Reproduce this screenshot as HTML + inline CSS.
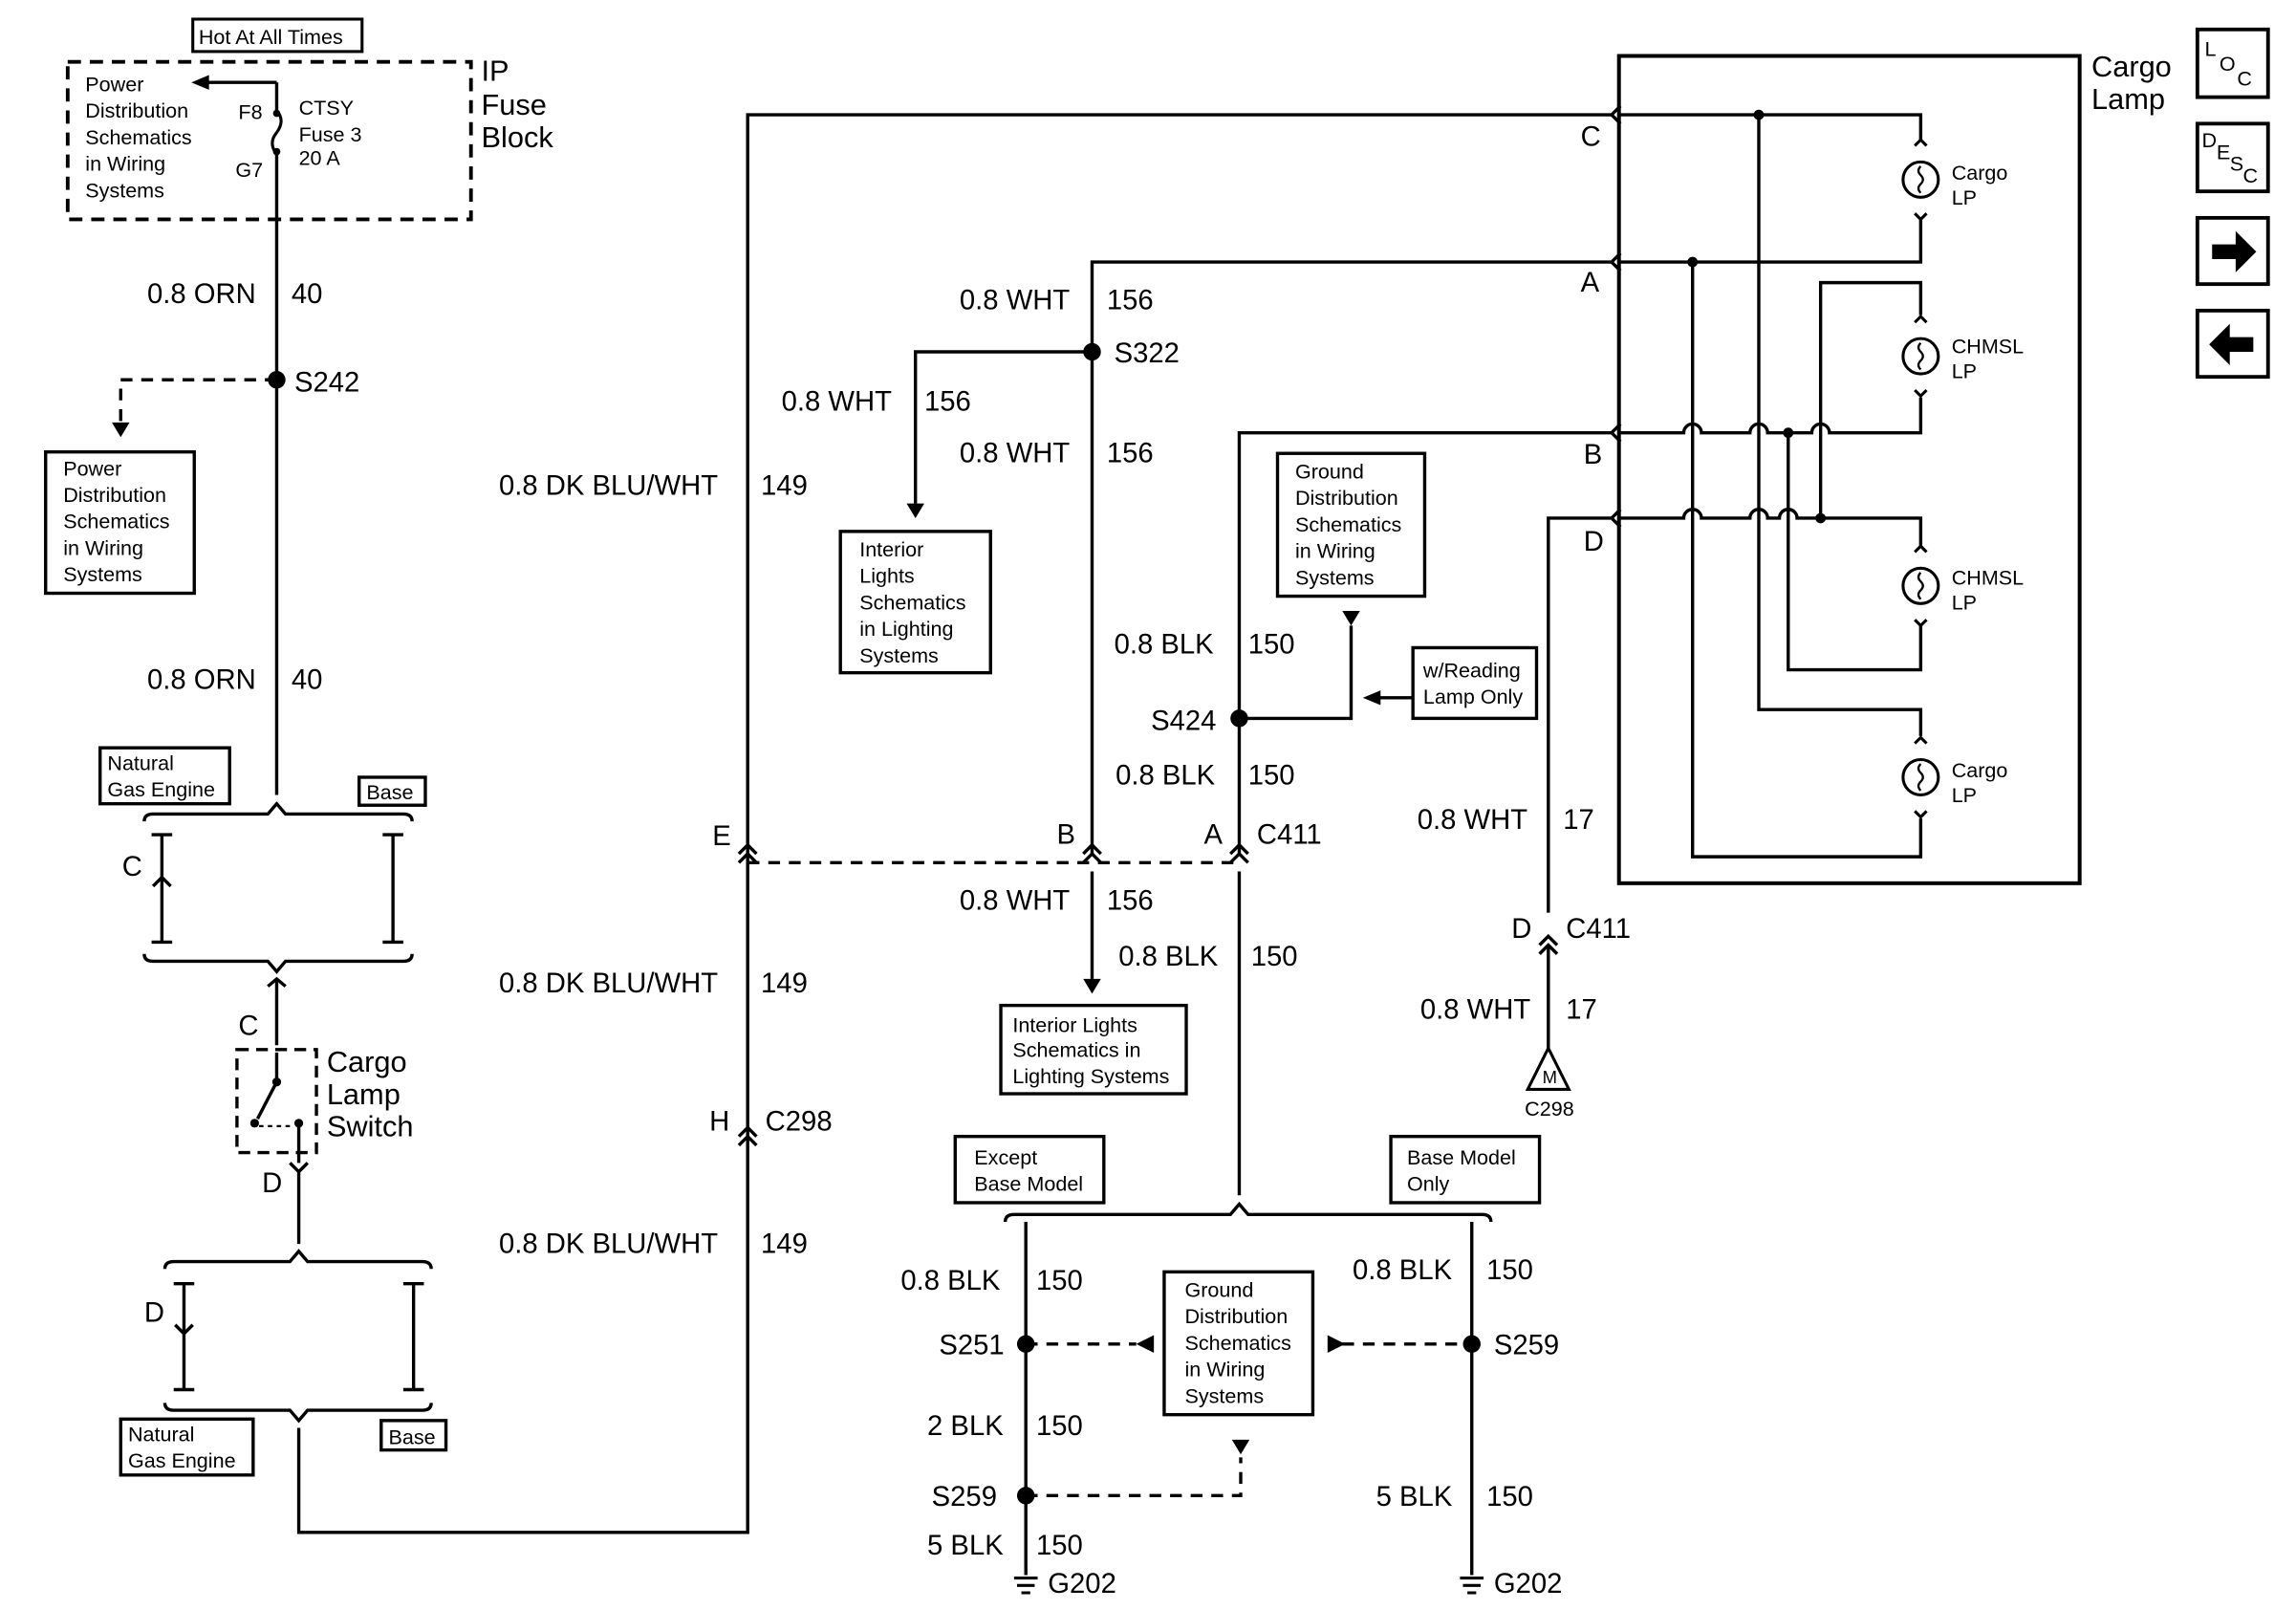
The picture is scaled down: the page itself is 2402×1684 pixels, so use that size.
<!DOCTYPE html>
<html><head><meta charset="utf-8"><style>
html,body{margin:0;padding:0;background:#fff}
svg{display:block}
text{font-family:"Liberation Sans",Arial,sans-serif;fill:#000}
.w{font-size:19px}
.s{font-size:14px}
.m{font-size:20px}
</style></head><body>
<svg width="2402" height="1684" viewBox="0 0 1560 1093.7" preserveAspectRatio="none" xmlns="http://www.w3.org/2000/svg">
<defs>
<g id="lamp"><circle cx="0" cy="0" r="12" fill="#fff" stroke="#000" stroke-width="2"/><path d="M0,-9 q-3,3 0,6 q3,3 0,6 q-3,3 0,6" fill="none" stroke="#000" stroke-width="1.5"/><path d="M-4,-23 l4,-4 l4,4 M-4,23 l4,4 l4,-4" fill="none" stroke="#000" stroke-width="2"/></g>
</defs>
<g fill="none" stroke="#000" stroke-width="2.2">
<rect x="131" y="13" width="115" height="22" stroke-width="2"/>
<rect x="46" y="42" width="274" height="107" stroke-dasharray="9,6" stroke-width="2.5"/>
<path d="M188,56 H140"/>
<path d="M188,56 V75 M188,105 V540"/>
<path d="M188,75 q6,7 0,15 q-6,7 0,15" stroke-width="2"/>
<path d="M188,258 H82 V288" stroke-dasharray="8,6"/>
<rect x="31" y="307" width="101" height="96"/>
<rect x="68" y="508" width="88" height="38"/>
<rect x="244" y="528" width="45" height="19"/>
<path d="M98,558 q0,-5 6,-5 H182 l6,-7 l6,7 H274 q6,0 6,5"/>
<path d="M103,567 h7 v73 h-7 M117,567 h-7 M117,640 h-7"/>
<path d="M104,602 l6,-6 l6,6"/>
<path d="M260,567 h7 v73 h-7 M274,567 h-7 M274,640 h-7"/>
<path d="M98,648 q0,5 6,5 H182 l6,7 l6,-7 H274 q6,0 6,-5"/>
<path d="M188,665 V710"/>
<path d="M182,670 l6,-5 l6,5"/>
<rect x="161" y="713" width="54" height="70" stroke-dasharray="8,5"/>
<path d="M188,715 V735 L175,760 M203,765 V790"/>
<path d="M176,765 H200" stroke-dasharray="3,3" stroke-width="1.5"/>
<path d="M197,790 l6,6 l6,-6"/>
<path d="M203,796 V845"/>
<path d="M112,862 q0,-5 6,-5 H197 l6,-7 l6,7 H287 q6,0 6,5"/>
<path d="M118,872 h7 v72 h-7 M132,872 h-7 M132,944 h-7"/>
<path d="M119,900 l6,6 l6,-6"/>
<path d="M274,872 h7 v72 h-7 M288,872 h-7 M288,944 h-7"/>
<path d="M112,953 q0,5 6,5 H197 l6,7 l6,-7 H287 q6,0 6,-5"/>
<rect x="82" y="964" width="90" height="38"/>
<rect x="259" y="965" width="44" height="20"/>
<path d="M203,970 V1041 H508 V78 H1095"/>
<path d="M502,586 l6,-6 l6,6 M502,580 l6,-6 l6,6"/>
<path d="M502,778 l6,-6 l6,6 M502,772 l6,-6 l6,6"/>
<path d="M742,580 V178 H1095"/>
<path d="M742,239 H622 V342"/>
<rect x="571" y="361" width="102" height="96"/>
<path d="M742,592 V665"/>
<path d="M736,586 l6,-6 l6,6 M736,580 l6,-6 l6,6"/>
<rect x="680" y="683" width="126" height="60"/>
<path d="M842,580 V294 H1095"/>
<path d="M842,592 V812"/>
<path d="M836,586 l6,-6 l6,6 M836,580 l6,-6 l6,6"/>
<path d="M842,488 H918 V425"/>
<rect x="868" y="308" width="100" height="97"/>
<rect x="960" y="440" width="84" height="48"/>
<path d="M960,474 H936"/>
<path d="M508,586 H842" stroke-dasharray="8,6"/>
<path d="M683,830 q0,-5 6,-5 H836 l6,-7 l6,7 H1007 q6,0 6,5"/>
<rect x="649" y="772" width="101" height="45"/>
<rect x="945" y="772" width="101" height="45"/>
<path d="M697,830 V1070 M1000,830 V1070"/>
<path d="M697,913 H772 M912,913 H1000" stroke-dasharray="8,6"/>
<rect x="791" y="864" width="101" height="97"/>
<path d="M697,1016 H843 V990" stroke-dasharray="8,6"/>
<path d="M1095,352 H1052 V620 M1052,642 V712"/>
<path d="M1046,642 l6,-6 l6,6 M1046,648 l6,-6 l6,6"/>
<rect x="1100" y="38" width="313" height="562" stroke-width="2.6"/>
<path d="M1101,72 l-6,6 l6,6 M1101,172 l-6,6 l6,6 M1101,288 l-6,6 l6,6 M1101,346 l-6,6 l6,6"/>
<path d="M1101,78 H1305 V96 M1305,148 V178 H1101"/>
<path d="M1101,294 H1144 a6,6 0 0 1 12,0 H1189 a6,6 0 0 1 12,0 H1231 a6,6 0 0 1 12,0 H1305 V270"/>
<path d="M1305,214 V192 H1237 V352"/>
<path d="M1101,352 H1144 a6,6 0 0 1 12,0 H1189 a6,6 0 0 1 12,0 H1209 a6,6 0 0 1 12,0 H1305 V372"/>
<path d="M1305,424 V455 H1215 V294"/>
<path d="M1195,78 V482 H1305 V500 M1305,556 V582 H1150 V178"/>
</g>
<g fill="#000">
<path d="M130,56 l12,-5 v10z"/>
<circle cx="188" cy="77" r="2.5"/><circle cx="188" cy="103" r="2.5"/>
<circle cx="188" cy="258" r="6"/>
<path d="M76,287 h12 l-6,10z"/>
<circle cx="188" cy="735" r="3"/><circle cx="173" cy="763" r="3"/><circle cx="203" cy="763" r="3"/>
<circle cx="742" cy="239" r="6"/>
<path d="M616,342 h12 l-6,10z"/>
<path d="M736,665 h12 l-6,10z"/>
<circle cx="842" cy="488" r="6"/>
<path d="M912,415 h12 l-6,10z"/>
<path d="M926,474 l12,-5 v10z"/>
<circle cx="697" cy="913" r="6"/><circle cx="1000" cy="913" r="6"/><circle cx="697" cy="1016" r="6"/>
<path d="M772,913 l12,-6 v12z"/><path d="M914,913 l-12,-6 v12z"/>
<path d="M837,978 h12 l-6,10z"/>
<circle cx="1195" cy="78" r="3.5"/><circle cx="1150" cy="178" r="3.5"/><circle cx="1215" cy="294" r="3.5"/><circle cx="1237" cy="352" r="3.5"/>
</g>
<g stroke="#000" stroke-width="2">
<path d="M689,1072 h16 M691,1077 h12 M694,1082 h6"/>
<path d="M992,1072 h16 M994,1077 h12 M997,1082 h6"/>
</g>
<path d="M1052,712 L1038,740 H1066 Z" fill="#fff" stroke="#000" stroke-width="2"/>
<use href="#lamp" x="1305" y="122"/>
<use href="#lamp" x="1305" y="242"/>
<use href="#lamp" x="1305" y="398"/>
<use href="#lamp" x="1305" y="528"/>
<g fill="none" stroke="#000" stroke-width="2.5">
<rect x="1493" y="20" width="48" height="46"/>
<rect x="1493" y="84" width="48" height="46"/>
<rect x="1493" y="148" width="48" height="45"/>
<rect x="1493" y="211" width="48" height="45"/>
</g>
<path d="M1503,166 h16 v-9 l14,14 l-14,14 v-9 h-16z" fill="#000"/>
<path d="M1531,229 h-16 v-9 l-14,14 l14,14 v-9 h16z" fill="#000"/>
<text x="1498" y="38" class="s">L</text><text x="1508" y="48" class="s">O</text><text x="1520" y="58" class="s">C</text>
<text x="1496" y="100" class="s">D</text><text x="1506" y="108" class="s">E</text><text x="1515" y="116" class="s">S</text><text x="1524" y="124" class="s">C</text>
<text x="135" y="30" class="s">Hot At All Times</text>
<text x="327" y="55" class="m">IP</text><text x="327" y="78" class="m">Fuse</text><text x="327" y="100" class="m">Block</text>
<g class="s">
<text x="58" y="62">Power</text><text x="58" y="80">Distribution</text><text x="58" y="98">Schematics</text><text x="58" y="116">in Wiring</text><text x="58" y="134">Systems</text>
<text x="162" y="81">F8</text><text x="160" y="120">G7</text>
<text x="203" y="78">CTSY</text><text x="203" y="96">Fuse 3</text><text x="203" y="112">20 A</text>
<text x="43" y="323">Power</text><text x="43" y="341">Distribution</text><text x="43" y="359">Schematics</text><text x="43" y="377">in Wiring</text><text x="43" y="395">Systems</text>
<text x="73" y="523">Natural</text><text x="73" y="541">Gas Engine</text>
<text x="249" y="543">Base</text>
<text x="87" y="979">Natural</text><text x="87" y="997">Gas Engine</text>
<text x="264" y="981">Base</text>
<text x="584" y="378">Interior</text><text x="584" y="396">Lights</text><text x="584" y="414">Schematics</text><text x="584" y="432">in Lighting</text><text x="584" y="450">Systems</text>
<text x="688" y="701">Interior Lights</text><text x="688" y="718">Schematics in</text><text x="688" y="736">Lighting Systems</text>
<text x="880" y="325">Ground</text><text x="880" y="343">Distribution</text><text x="880" y="361">Schematics</text><text x="880" y="379">in Wiring</text><text x="880" y="397">Systems</text>
<text x="967" y="460">w/Reading</text><text x="967" y="478">Lamp Only</text>
<text x="662" y="791">Except</text><text x="662" y="809">Base Model</text>
<text x="956" y="791">Base Model</text><text x="956" y="809">Only</text>
<text x="805" y="881">Ground</text><text x="805" y="899">Distribution</text><text x="805" y="917">Schematics</text><text x="805" y="935">in Wiring</text><text x="805" y="953">Systems</text>
<text x="1036" y="758">C298</text>
<text x="1048" y="736" font-size="12">M</text>
<text x="1326" y="122">Cargo</text><text x="1326" y="139">LP</text>
<text x="1326" y="240">CHMSL</text><text x="1326" y="257">LP</text>
<text x="1326" y="397">CHMSL</text><text x="1326" y="414">LP</text>
<text x="1326" y="528">Cargo</text><text x="1326" y="545">LP</text>
</g>
<g class="w">
<text x="100" y="206">0.8 ORN</text><text x="198" y="206">40</text>
<text x="200" y="266">S242</text>
<text x="100" y="468">0.8 ORN</text><text x="198" y="468">40</text>
<text x="83" y="595">C</text>
<text x="162" y="703">C</text>
<text x="178" y="810">D</text>
<text x="98" y="898">D</text>
<text x="222" y="728" class="m">Cargo</text><text x="222" y="750" class="m">Lamp</text><text x="222" y="772" class="m">Switch</text>
<text x="339" y="336">0.8 DK BLU/WHT</text><text x="517" y="336">149</text>
<text x="339" y="674">0.8 DK BLU/WHT</text><text x="517" y="674">149</text>
<text x="339" y="851">0.8 DK BLU/WHT</text><text x="517" y="851">149</text>
<text x="484" y="574">E</text>
<text x="482" y="768">H</text><text x="520" y="768">C298</text>
<text x="652" y="210">0.8 WHT</text><text x="752" y="210">156</text>
<text x="757" y="246">S322</text>
<text x="531" y="279">0.8 WHT</text><text x="628" y="279">156</text>
<text x="652" y="314">0.8 WHT</text><text x="752" y="314">156</text>
<text x="718" y="573">B</text>
<text x="652" y="618">0.8 WHT</text><text x="752" y="618">156</text>
<text x="757" y="444">0.8 BLK</text><text x="848" y="444">150</text>
<text x="782" y="496">S424</text>
<text x="758" y="533">0.8 BLK</text><text x="848" y="533">150</text>
<text x="818" y="573">A</text><text x="854" y="573">C411</text>
<text x="760" y="656">0.8 BLK</text><text x="850" y="656">150</text>
<text x="612" y="876">0.8 BLK</text><text x="704" y="876">150</text>
<text x="638" y="920">S251</text>
<text x="630" y="975">2 BLK</text><text x="704" y="975">150</text>
<text x="633" y="1023">S259</text>
<text x="630" y="1056">5 BLK</text><text x="704" y="1056">150</text>
<text x="712" y="1082">G202</text>
<text x="919" y="869">0.8 BLK</text><text x="1010" y="869">150</text>
<text x="1015" y="920">S259</text>
<text x="935" y="1023">5 BLK</text><text x="1010" y="1023">150</text>
<text x="1015" y="1082">G202</text>
<text x="963" y="563">0.8 WHT</text><text x="1062" y="563">17</text>
<text x="1027" y="637">D</text><text x="1064" y="637">C411</text>
<text x="965" y="692">0.8 WHT</text><text x="1064" y="692">17</text>
<text x="1074" y="99">C</text><text x="1074" y="198">A</text><text x="1076" y="315">B</text><text x="1076" y="374">D</text>
<text x="1421" y="52" class="m">Cargo</text><text x="1421" y="74" class="m">Lamp</text>
</g>
</svg>
</body></html>
